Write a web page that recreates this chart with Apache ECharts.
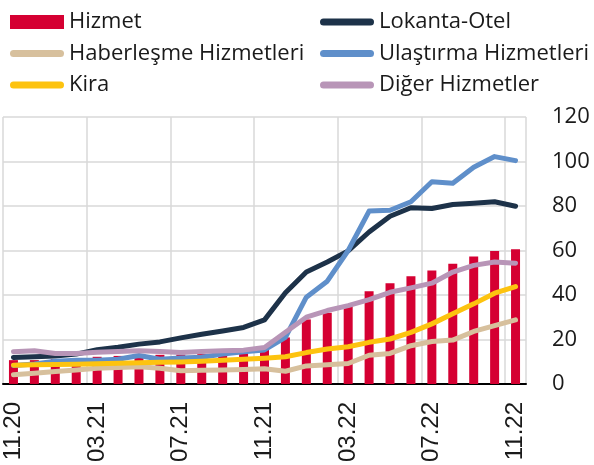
<!DOCTYPE html>
<html>
<head>
<meta charset="utf-8">
<script src="https://cdn.jsdelivr.net/npm/echarts@6/dist/echarts.min.js"></script>
<style>
  html, body { margin: 0; padding: 0; background: #fff; }
  #chart { width: 594px; height: 465px; }
</style>
</head>
<body>
<div id="chart"></div>
<script>
var months = ['11.20', '12.20', '01.21', '02.21', '03.21', '04.21', '05.21', '06.21', '07.21', '08.21', '09.21', '10.21',
    '11.21', '12.21', '01.22', '02.22', '03.22', '04.22', '05.22', '06.22', '07.22', '08.22', '09.22', '10.22', '11.22'];

var hizmet = [10.7, 10.7, 11.2, 11.6, 12.2, 12.6, 12.9, 13.1, 13.2, 13.4, 13.7, 14.1,
    15.4, 20.9, 29.0, 32.0, 35.5, 41.7, 45.3, 48.4, 51.0, 54.0, 57.3, 59.8, 60.5];
var lokanta = [11.9, 12.2, 12.6, 13.4, 15.4, 16.5, 17.9, 18.9, 20.7, 22.3, 23.8, 25.4,
    28.8, 41.0, 50.3, 54.8, 59.8, 68.3, 75.4, 79.2, 78.9, 80.7, 81.2, 81.9, 79.9];
var haberlesme = [4.1, 4.8, 5.6, 6.3, 7.1, 7.4, 7.7, 7.1, 5.9, 6.2, 6.3, 6.5,
    6.8, 5.7, 8.1, 8.6, 9.2, 12.9, 13.7, 17.2, 19.1, 19.7, 23.6, 26.2, 28.8];
var ulastirma = [8.3, 9.0, 10.2, 10.6, 10.6, 11.1, 12.8, 11.1, 11.7, 12.0, 13.5, 14.5,
    15.3, 20.9, 39.0, 46.2, 60.0, 77.7, 78.1, 81.9, 90.9, 90.2, 97.4, 102.2, 100.4];
var kira = [8.4, 8.6, 8.7, 8.9, 9.1, 9.3, 9.5, 9.7, 9.9, 10.2, 10.7, 11.1,
    11.6, 12.2, 14.1, 15.7, 16.7, 18.7, 20.2, 23.2, 27.0, 31.5, 36.0, 40.8, 43.8];
var diger = [14.5, 14.9, 13.7, 13.7, 14.2, 14.6, 14.9, 14.6, 14.1, 14.6, 14.9, 15.2,
    16.4, 23.2, 30.0, 33.0, 35.2, 37.9, 41.2, 43.2, 45.3, 50.3, 53.3, 54.8, 54.3];

var chart = echarts.init(document.getElementById('chart'));

// legend icon for the line series: thick rounded bar
var lineIcon = 'path://M3.5,0 L50.5,0 A3.5,3.5 0 0 1 50.5,7 L3.5,7 A3.5,3.5 0 0 1 3.5,0 Z';

function lineSeries(name, color, data) {
    return {
        name: name,
        type: 'line',
        data: data,
        showSymbol: false,
        symbol: 'none',
        lineStyle: { color: color, width: 5, cap: 'round', join: 'round' },
        itemStyle: { color: color }
    };
}

var legendText = { fontFamily: 'Open Sans', fontSize: 22, color: '#1a1a1a' };

var option = {
    animation: false,
    legend: [
        {
            orient: 'vertical', left: 5, top: 6,
            itemWidth: 54, itemHeight: 14, itemGap: 9.5,
            textStyle: legendText,
            data: [
                { name: 'Hizmet', icon: 'rect' },
                { name: 'Haberleşme Hizmetleri', icon: lineIcon },
                { name: 'Kira', icon: lineIcon }
            ]
        },
        {
            orient: 'vertical', left: 315, top: 6,
            itemWidth: 54, itemHeight: 14, itemGap: 9.5,
            textStyle: legendText,
            data: [
                { name: 'Lokanta-Otel', icon: lineIcon },
                { name: 'Ulaştırma Hizmetleri', icon: lineIcon },
                { name: 'Diğer Hizmetler', icon: lineIcon }
            ]
        }
    ],
    grid: { left: 3, right: 68, top: 117, bottom: 81 },
    xAxis: {
        type: 'category',
        data: months,
        axisLine: { lineStyle: { color: '#000', width: 2 } },
        axisTick: { show: false },
        axisLabel: {
            interval: 3, rotate: 90, margin: 18,
            fontFamily: 'Liberation Sans', fontSize: 24, color: '#1a1a1a'
        },
        splitLine: { show: true, interval: 3, lineStyle: { color: '#d9d9d9', width: 1.5 } }
    },
    yAxis: {
        type: 'value',
        position: 'right',
        min: 0, max: 120, interval: 20,
        axisLine: { show: false },
        axisTick: { show: false },
        axisLabel: {
            align: 'left', margin: 26,
            fontFamily: 'Open Sans', fontSize: 22, color: '#1a1a1a'
        },
        splitLine: { lineStyle: { color: '#d9d9d9', width: 1.5 } }
    },
    series: [
        {
            name: 'Hizmet',
            type: 'bar',
            data: hizmet,
            barWidth: 9,
            itemStyle: { color: '#d50032' }
        },
        lineSeries('Lokanta-Otel', '#1d3249', lokanta),
        lineSeries('Haberleşme Hizmetleri', '#d7c09d', haberlesme),
        lineSeries('Ulaştırma Hizmetleri', '#5f8fca', ulastirma),
        lineSeries('Kira', '#fdc30f', kira),
        lineSeries('Diğer Hizmetler', '#b895b7', diger)
    ]
};

chart.setOption(option);
</script>
</body>
</html>
